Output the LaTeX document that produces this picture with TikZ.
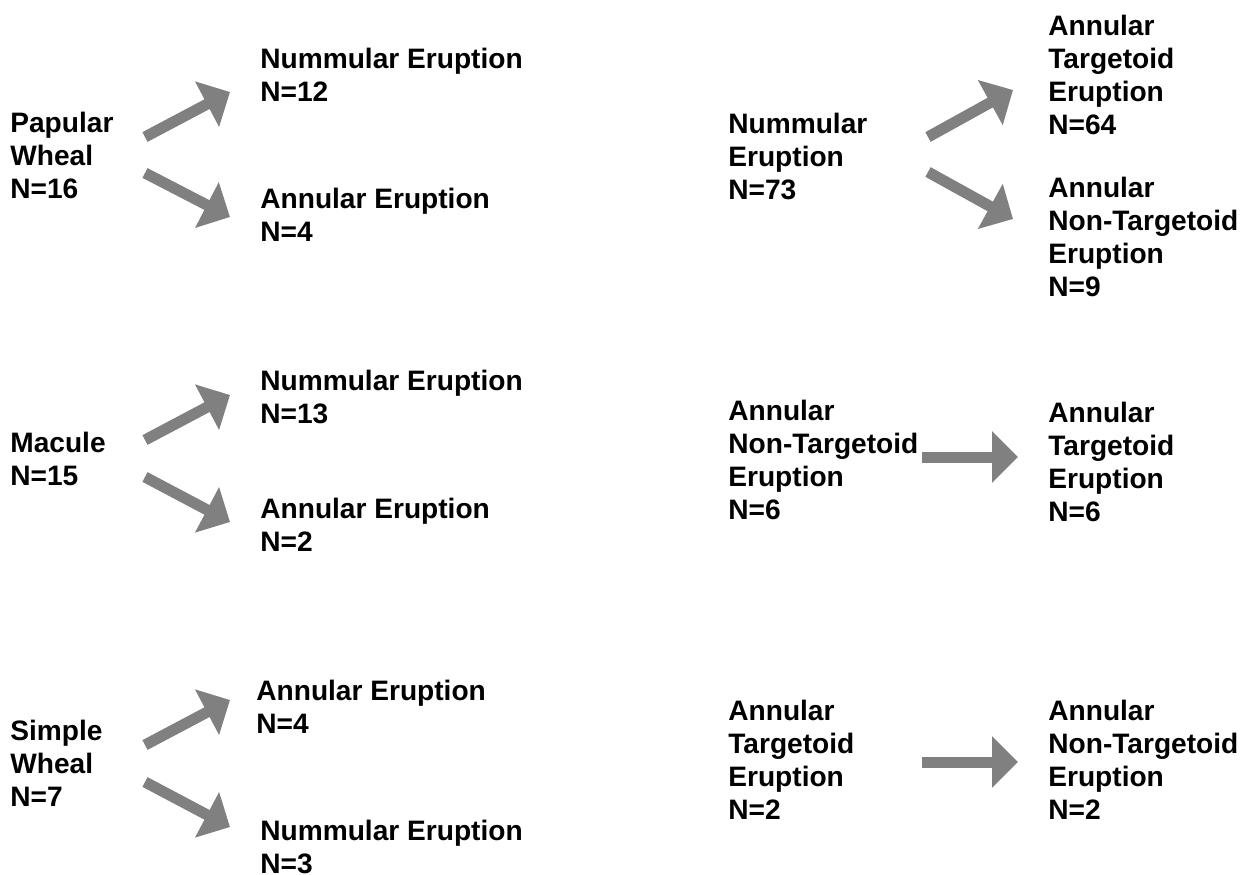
\documentclass[tikz,border=0pt]{standalone}
\usepackage{fontspec}
\setmainfont{Liberation Sans}
\usetikzlibrary{arrows.meta}
\definecolor{flowGray}{RGB}{128, 128, 128}

\begin{document}
\begin{tikzpicture}[
  x=0.02cm, y=-0.02cm,
  label/.style={
    anchor=north west,
    inner sep=0pt,
    align=left,
    font=\fontsize{16}{18.8}\selectfont\bfseries
  },
  bigarrow/.style={-{Triangle[width=1cm,length=0.52cm]},line width=0.22cm,flowGray}
]
  \useasboundingbox (0,0) rectangle (1252,875);
  % left column
  \node[label] (papular) at (10,112) {Papular\\Wheal\\N=16};
  \node[label] (papnum) at (260,48) {Nummular Eruption\\N=12};
  \node[label] (papann) at (260,188) {Annular Eruption\\N=4};
  \node[label] (macule) at (10,432) {Macule\\N=15};
  \node[label] (macnum) at (260,370) {Nummular Eruption\\N=13};
  \node[label] (macann) at (260,498) {Annular Eruption\\N=2};
  \node[label] (simple) at (10,720) {Simple\\Wheal\\N=7};
  \node[label] (simann) at (256,680) {Annular Eruption\\N=4};
  \node[label] (simnum) at (260,820) {Nummular Eruption\\N=3};
  % right column
  \node[label] (nummular) at (728,113) {Nummular\\Eruption\\N=73};
  \node[label] (numtarg) at (1048,15) {Annular\\Targetoid\\Eruption\\N=64};
  \node[label] (numnon) at (1048,177) {Annular\\Non-Targetoid\\Eruption\\N=9};
  \node[label] (nontarg) at (728,400) {Annular\\Non-Targetoid\\Eruption\\N=6};
  \node[label] (nontotarg) at (1048,402) {Annular\\Targetoid\\Eruption\\N=6};
  \node[label] (targ) at (728,700) {Annular\\Targetoid\\Eruption\\N=2};
  \node[label] (targtonon) at (1048,700) {Annular\\Non-Targetoid\\Eruption\\N=2};
  % arrow ends
  \coordinate (papular-up) at (145,137);
  \coordinate (papnum-in) at (230,92);
  \coordinate (papular-down) at (145,173);
  \coordinate (papann-in) at (230,217);
  \coordinate (macule-up) at (145,440);
  \coordinate (macnum-in) at (230,395);
  \coordinate (macule-down) at (145,477);
  \coordinate (macann-in) at (230,522);
  \coordinate (simple-up) at (145,745);
  \coordinate (simann-in) at (230,700);
  \coordinate (simple-down) at (145,782);
  \coordinate (simnum-in) at (230,827);
  \coordinate (nummular-up) at (928,137);
  \coordinate (numtarg-in) at (1013,90);
  \coordinate (nummular-down) at (928,172);
  \coordinate (numnon-in) at (1013,219);
  \coordinate (nontarg-out) at (922,457);
  \coordinate (nontotarg-in) at (1018,457);
  \coordinate (targ-out) at (922,762);
  \coordinate (targtonon-in) at (1018,762);
  \draw[bigarrow] (papular-up) -- (papnum-in);
  \draw[bigarrow] (papular-down) -- (papann-in);
  \draw[bigarrow] (macule-up) -- (macnum-in);
  \draw[bigarrow] (macule-down) -- (macann-in);
  \draw[bigarrow] (simple-up) -- (simann-in);
  \draw[bigarrow] (simple-down) -- (simnum-in);
  \draw[bigarrow] (nummular-up) -- (numtarg-in);
  \draw[bigarrow] (nummular-down) -- (numnon-in);
  \draw[bigarrow] (nontarg-out) -- (nontotarg-in);
  \draw[bigarrow] (targ-out) -- (targtonon-in);
\end{tikzpicture}
\end{document}
